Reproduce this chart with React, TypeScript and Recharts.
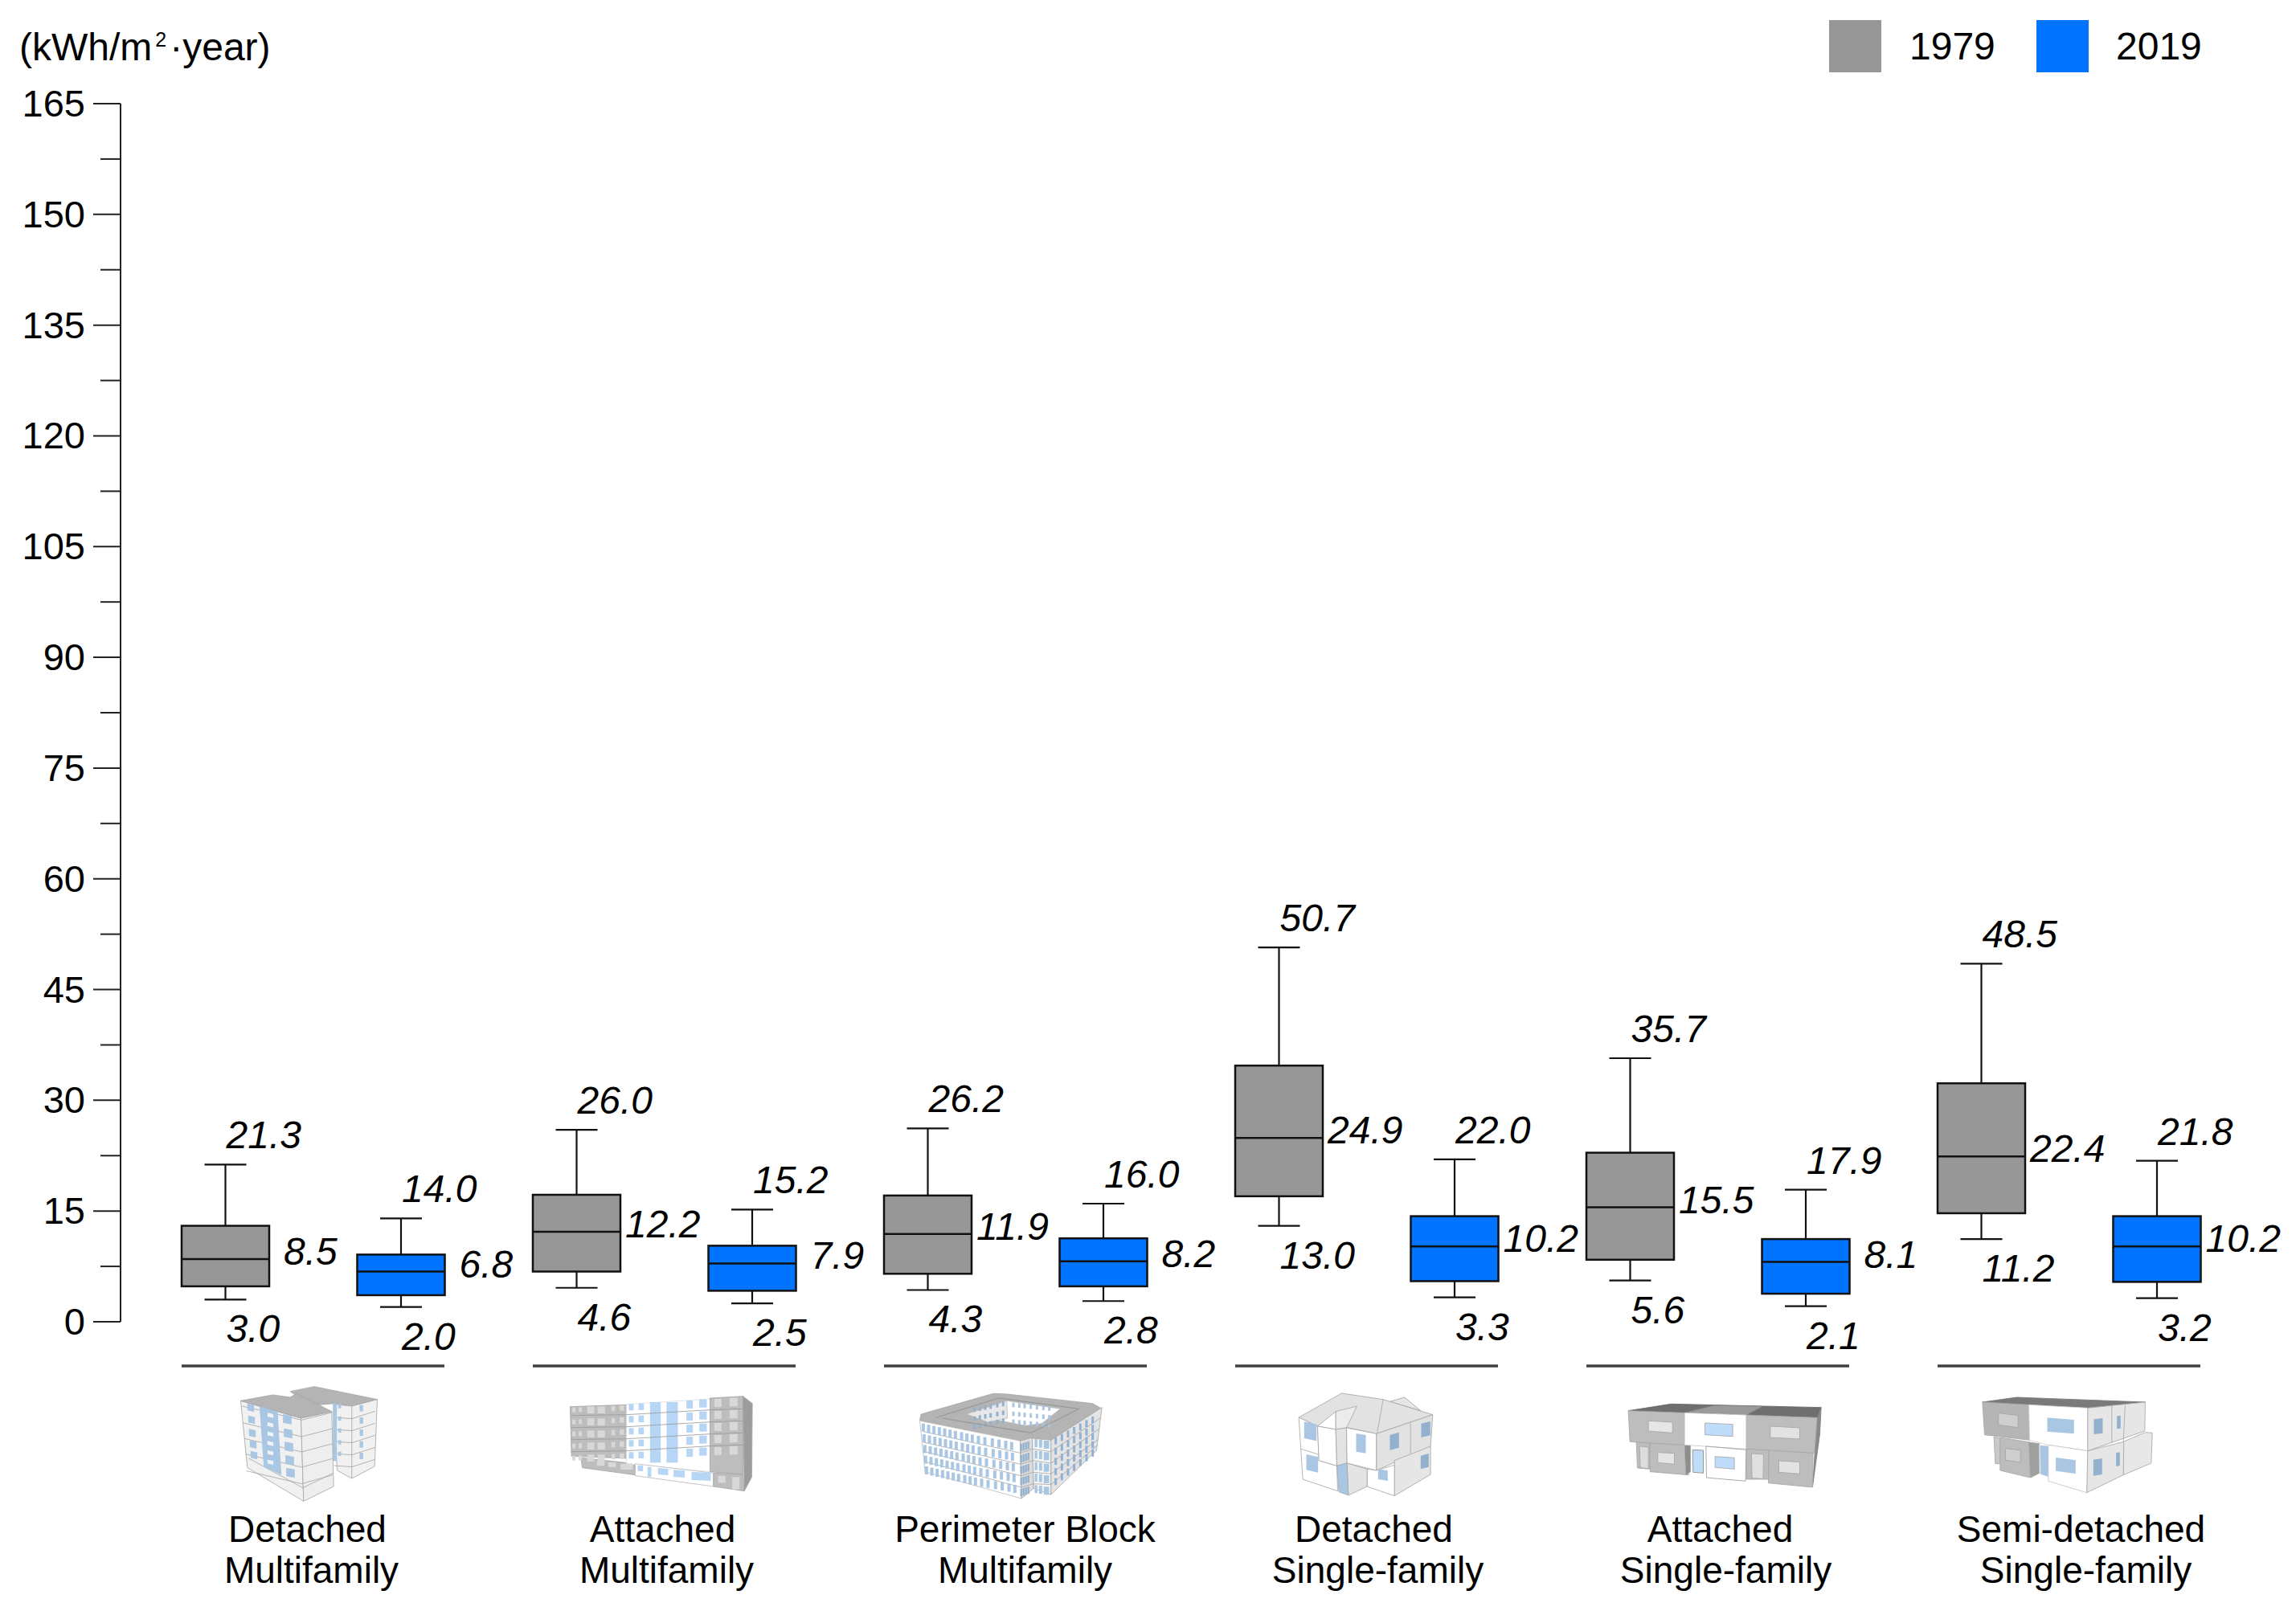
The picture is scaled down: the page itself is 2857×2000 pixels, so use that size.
import { Bar, ComposedChart, XAxis, YAxis } from "recharts";

const FONT = "'Liberation Sans', Arial, sans-serif";
const GRAY = "#979797";
const BLUE = "#0073ff";

const categories = [
  "Detached Multifamily",
  "Attached Multifamily",
  "Perimeter Block Multifamily",
  "Detached Single-family",
  "Attached Single-family",
  "Semi-detached Single-family",
];
const labelLines = [
  ["Detached", "Multifamily"],
  ["Attached", "Multifamily"],
  ["Perimeter Block", "Multifamily"],
  ["Detached", "Single-family"],
  ["Attached", "Single-family"],
  ["Semi-detached", "Single-family"],
];

const hi1979 = [21.3, 26.0, 26.2, 50.7, 35.7, 48.5];
const q3_1979 = [13.0, 17.2, 17.1, 34.7, 22.9, 32.3];
const med1979 = [8.5, 12.2, 11.9, 24.9, 15.5, 22.4];
const q1_1979 = [4.8, 6.8, 6.5, 17.0, 8.4, 14.7];
const lo1979 = [3.0, 4.6, 4.3, 13.0, 5.6, 11.2];

const hi2019 = [14.0, 15.2, 16.0, 22.0, 17.9, 21.8];
const q3_2019 = [9.1, 10.3, 11.3, 14.3, 11.2, 14.3];
const med2019 = [6.8, 7.9, 8.2, 10.2, 8.1, 10.2];
const q1_2019 = [3.6, 4.2, 4.8, 5.5, 3.8, 5.4];
const lo2019 = [2.0, 2.5, 2.8, 3.3, 2.1, 3.2];

const yTicks = [
  0, 7.5, 15, 22.5, 30, 37.5, 45, 52.5, 60, 67.5, 75, 82.5, 90, 97.5, 105, 112.5, 120, 127.5, 135,
  142.5, 150, 157.5, 165,
];

const rows = categories.map((name, i) => ({
  name,
  box1979: [q1_1979[i], q3_1979[i]],
  box2019: [q1_2019[i], q3_2019[i]],
  stats1979: { lo: lo1979[i], med: med1979[i], hi: hi1979[i], q1: q1_1979[i], q3: q3_1979[i] },
  stats2019: { lo: lo2019[i], med: med2019[i], hi: hi2019[i], q1: q1_2019[i], q3: q3_2019[i] },
}));

// box, whiskers and the three value labels, scaled from the bar rectangle recharts hands us
function BoxMark(props: any) {
  const { x, y, width, height, payload, series, fill } = props;
  const s = payload[`stats${series}`];
  const perUnit = height / (s.q3 - s.q1);
  const toY = (v: number) => y + (s.q3 - v) * perUnit;
  const cx = x + width / 2;
  const text = { fontFamily: FONT, fontSize: 48, fontStyle: "italic", fill: "#000" };
  return (
    <g>
      <line x1={cx} x2={cx} y1={toY(s.hi)} y2={toY(s.lo)} stroke="#111" strokeWidth={2.2} />
      <line x1={cx - 26} x2={cx + 26} y1={toY(s.hi)} y2={toY(s.hi)} stroke="#111" strokeWidth={2.2} />
      <line x1={cx - 26} x2={cx + 26} y1={toY(s.lo)} y2={toY(s.lo)} stroke="#111" strokeWidth={2.2} />
      <rect x={x} y={y} width={width} height={height} fill={fill} stroke="#111" strokeWidth={2.5} />
      <line x1={x} x2={x + width} y1={toY(s.med)} y2={toY(s.med)} stroke="#111" strokeWidth={2.5} />
      <text x={cx + 1} y={toY(s.hi) - 20} {...text}>{s.hi.toFixed(1)}</text>
      <text x={cx + 1} y={toY(s.lo) + 53} {...text}>{s.lo.toFixed(1)}</text>
      <text x={x + width + (s.med >= 10 ? 6 : 18)} y={toY(s.med) + 7} {...text}>{s.med.toFixed(1)}</text>
    </g>
  );
}

function YTick(props: any) {
  const { x, y, payload } = props;
  const major = payload.value % 15 === 0;
  return (
    <g>
      <line x1={x - (major ? 34 : 25)} x2={x} y1={y} y2={y} stroke="#222" strokeWidth={2} />
      {major && (
        <text x={x - 44} y={y + 16} textAnchor="end" fontFamily={FONT} fontSize={47} fill="#000">
          {payload.value}
        </text>
      )}
    </g>
  );
}

const Q = ({ p, f, s = "#a6a6a6" }: { p: string; f: string; s?: string }) => (
  <polygon points={p} fill={f} stroke={s} strokeWidth={2.5} strokeLinejoin="round" />
);
const Win = ({ x, y, w, h, k = 0, f }: any) => (
  <polygon points={`${x},${y} ${x + w},${y + k} ${x + w},${y + k + h} ${x},${y + h}`} fill={f} />
);
const Ln = ({ d, s = "#a6a6a6" }: { d: string; s?: string }) => (
  <polyline points={d} fill="none" stroke={s} strokeWidth={2.5} />
);

const WIN = "#a9c6e3";
const WIN2 = "#b7d5f4";
const WIN3 = "#93b0cf";
const ROOF = "#b4b4b4";
const WALL = "#f1f1f1";
const BLOCK = "#bdbdbd";
const PANE = "#d8d8d8";

function IconDetachedMulti() {
  return (
    <g>
      <Q p="275,50 365,32 600,80 505,105 440,95 385,100 300,68" f={ROOF} />
      <Q p="437,98 505,105 600,80 590,330 505,375 450,345" f={WALL} />
      {[150, 195, 240, 285, 330].map(v => (
        <Ln key={v} d={`${438},${v - 3} 505,${v + 2} 592,${v - 26}`} />
      ))}
      <Ln d="505,105 505,375" />
      <Win x={434} y={95} w={15} h={215} f={WIN} />
      {[97, 143, 188, 232, 275].map(v => (
        <g key={v}>
          <Win x={454} y={v} w={11} h={16} f={WIN} />
          <Win x={534} y={v + 4} w={13} h={24} f={WIN} />
        </g>
      ))}
      <Q p="90,85 315,150 325,460 115,335" f={WALL} />
      <Q p="315,150 430,125 437,405 325,460" f="#eeeeee" />
      <Q p="90,85 210,63 275,72 300,58 430,125 315,150" f={ROOF} />
      {[135, 190, 240, 290, 345].map((v, i) => (
        <g key={v}>
          <Ln d={`${96 + i * 4},${v - 30 + i * 8} 318,${v + 22 + i * 7} 433,${v - 7 + i * 6}`} />
        </g>
      ))}
      <Ln d="120,300 322,410 436,355" />
      <polygon points="160,105 228,125 242,362 176,330" fill={WIN} />
      {[130, 165, 200, 235, 270, 305].map(v => (
        <Win key={v} x={190} y={v} w={22} h={14} k={5} f="#eef3f8" />
      ))}
      {[95, 140, 190, 232, 272].map((v, i) => (
        <Win key={v} x={115 + i * 3} y={v} w={25} h={26} k={6} f={WIN} />
      ))}
      {[135, 188, 238, 288, 335].map((v, i) => (
        <Win key={v} x={248 + i * 3} y={v} w={32} h={32} k={6} f={WIN} />
      ))}
    </g>
  );
}

function IconAttachedMulti() {
  const rowsY = [100, 145, 190, 235, 280];
  return (
    <g>
      <Q p="60,107 270,100 270,300 65,292" f={BLOCK} />
      <Q p="100,298 303,320 303,362 105,335" f={BLOCK} />
      <Q p="270,98 582,78 582,350 270,320" f="#ffffff" s="#dddddd" />
      <Q p="303,320 595,355 595,405 303,365" f="#ffffff" s="#bbbbbb" />
      <Q p="582,75 705,68 705,360 582,350" f={BLOCK} />
      <Q p="595,355 705,360 710,422 595,405" f={BLOCK} />
      <Q p="705,68 740,95 738,370 710,422" f="#9c9c9c" />
      {rowsY.map(v => (
        <g key={v}>
          <Win x={68} y={v + 10} w={12} h={18} f={PANE} />
          <Win x={92} y={v + 9} w={12} h={18} f={PANE} />
          <Win x={124} y={v + 6} w={26} h={26} f={PANE} />
          <Win x={162} y={v + 6} w={28} h={26} f={PANE} />
          <Win x={214} y={v + 4} w={14} h={20} f={PANE} />
          <Win x={245} y={v + 2} w={16} h={20} f={PANE} />
          <Win x={279} y={v - 3} w={18} h={24} f={WIN2} />
          <Win x={315} y={v - 5} w={20} h={25} f={WIN2} />
          <Win x={358} y={v - 10} w={40} h={46} f={WIN2} />
          <Win x={420} y={v - 10} w={42} h={46} f={WIN2} />
          <Win x={494} y={v - 16} w={24} h={30} f={WIN2} />
          <Win x={542} y={v - 20} w={28} h={30} f={WIN2} />
          <Win x={598} y={v - 22} w={27} h={30} f={PANE} />
          <Win x={655} y={v - 26} w={30} h={32} f={PANE} />
        </g>
      ))}
      {rowsY.slice(1).map(v => (
        <Ln key={v} d={`62,${v - 5} 270,${v - 8} 582,${v - 26} 705,${v - 30}`} s="#9a9a9a" />
      ))}
      <Win x={312} y={326} w={20} h={22} f={WIN2} />
      <Win x={349} y={332} w={14} h={38} f={WIN2} />
      <Win x={388} y={336} w={38} h={24} k={3} f={WIN2} />
      <Win x={446} y={343} w={42} h={26} k={3} f={WIN2} />
      <Win x={513} y={350} w={72} h={30} k={4} f={WIN2} />
      <Win x={160} y={310} w={28} h={18} f={PANE} />
      <Win x={202} y={315} w={28} h={18} f={PANE} />
      <Win x={248} y={320} w={46} h={22} f={PANE} />
      <Win x={612} y={365} w={28} h={26} f={PANE} />
      <Win x={665} y={370} w={27} h={46} f={PANE} />
    </g>
  );
}

function IconPerimeter() {
  const cols = [52, 72, 92, 112, 132, 152, 172, 195, 215, 235, 258, 282, 310, 335, 360, 382];
  return (
    <g>
      <Q p="50,135 320,58 370,60 690,95 720,112 535,232 425,235 45,158" f={ROOF} />
      <Q p="220,135 370,85 570,115 500,170 440,178" f="#ffffff" s="#bbbbbb" />
      <Q p="220,135 370,85 372,150 300,165" f="#e8e8e8" s="#bbbbbb" />
      {[92, 125, 155].map(v => (
        <g key={v}>
          {[390, 412, 432, 455, 478, 502, 524].map(c => (
            <Win key={c} x={c} y={v + (c - 390) * 0.1} w={9} h={17} f={WIN} />
          ))}
          {[245, 265, 285, 305, 330, 352].map(c => (
            <Win key={c} x={c} y={v + 18 - (c - 245) * 0.2} w={9} h={17} f={WIN3} />
          ))}
        </g>
      ))}
      <Ln d="105,148 340,75 640,115 460,205 130,150" s="#8c8c8c" />
      <Q p="45,160 420,235 425,450 65,350" f="#ffffff" s="#bbbbbb" />
      <Q p="420,235 465,222 470,412 425,450" f="#dcdcdc" />
      <Q p="465,225 535,232 535,435 470,412" f="#f6f6f6" />
      <Q p="535,232 725,110 705,270 535,435" f="#e4e4e4" />
      <Ln d="58,200 420,280 467,265 535,275 718,150" />
      <Ln d="60,240 421,322 468,308 535,318 714,190" />
      <Ln d="62,275 422,365 469,352 535,358 710,230" />
      <Ln d="64,312 424,408 470,395 535,398 707,252" />
      {[0, 1, 2, 3, 4].map(r => (
        <g key={r}>
          {cols.map((c, i) => (
            <Win key={c} x={c + r * 3} y={170 + r * 38 + i * 4.6 + r * 2} w={12} h={30} f={WIN} />
          ))}
          <Win x={474} y={228 + r * 43} w={10} h={30} f={WIN} />
          <Win x={490} y={230 + r * 43} w={12} h={30} f={WIN} />
          <Win x={508} y={234 + r * 43} w={20} h={30} f={WIN} />
          {[0, 1, 2, 3].map(c => (
            <Win key={c} x={420 + c * 9} y={246 + r * 42 - c * 3} w={7} h={28} f={WIN3} />
          ))}
          {[0, 1, 2, 3, 4, 5, 6].map(c => (
            <Win key={c} x={548 + c * 23} y={222 + r * 38 - c * 13 - r * c * 1.2} w={9} h={26} f={WIN3} />
          ))}
        </g>
      ))}
    </g>
  );
}

function IconDetachedSingle() {
  return (
    <g>
      <Q p="420,88 475,72 535,122" f="#e6e6e6" />
      <Q p="80,147 240,57 395,80 580,137 370,208 260,185 150,180" f="#e2e2e2" />
      <Ln d="395,80 372,208" />
      <Q p="150,180 218,125 218,192" f="#ffffff" />
      <Q p="218,125 297,105 258,186 218,192" f="#ececec" />
      <Q p="80,147 150,180 155,308 222,328 225,422 95,378" f="#ffffff" />
      <Ln d="88,265 152,285" />
      <Q p="150,180 218,192 222,328 155,308" f="#ffffff" />
      <Q p="218,192 258,186 260,318 222,328" f="#e3e3e3" />
      <Q p="258,186 370,208 370,345 260,318" f="#ffffff" />
      <Q p="370,208 580,137 572,255 370,345" f="#e2e2e2" />
      <Ln d="497,168 497,282" />
      <Q p="437,308 572,255 572,360 437,440" f="#e6e6e6" />
      <Q p="335,340 370,345 437,325 437,440 335,405" f="#ffffff" />
      <Q p="260,318 335,340 335,405 265,438" f="#e4e4e4" />
      <Q p="222,328 260,318 265,438 230,425" f={WIN} />
      <Win x={100} y={163} w={46} h={62} k={10} f={WIN} />
      <Win x={108} y={285} w={44} h={58} k={10} f={WIN} />
      <Win x={294} y={207} w={36} h={68} k={6} f={WIN} />
      <Win x={420} y={213} w={34} h={57} k={-10} f={WIN3} />
      <Win x={537} y={170} w={34} h={52} k={-8} f={WIN3} />
      <Win x={535} y={290} w={30} h={50} k={-8} f={WIN3} />
      <Win x={376} y={340} w={36} h={38} k={6} f={WIN} />
    </g>
  );
}

function IconAttachedSingle() {
  return (
    <g>
      <Q p="80,122 240,97 800,110 785,148 520,138 290,130" f="#6f6f6f" s="#666666" />
      <Q p="290,130 400,103 580,106 520,138" f="#9a9a9a" s="#8c8c8c" />
      <Q p="785,148 800,110 795,210 768,405" f="#8a8a8a" s="#808080" />
      <Q p="110,238 160,242 160,340 114,336" f={BLOCK} />
      <Q p="122,255 155,258 155,338 125,335" f="#dddddd" />
      <Q p="160,242 305,252 305,362 162,350" f={BLOCK} />
      <Q p="290,250 312,252 312,350 295,362" f="#8d8d8d" />
      <Q p="520,265 605,268 605,378 520,378" f={BLOCK} />
      <Q p="540,282 585,285 583,376 542,374" f="#e0e0e0" />
      <Q p="605,268 770,280 768,408 603,392" f={BLOCK} />
      <Q p="80,122 290,130 290,250 86,238" f={BLOCK} />
      <Q p="520,138 785,148 775,280 520,265" f={BLOCK} />
      <Q p="290,130 520,138 520,265 290,250" f="#ffffff" s="#c8c8c8" />
      <Q p="370,255 520,268 518,385 372,372" f="#ffffff" s="#999999" />
      <Q p="320,268 360,270 360,355 322,352" f="#bfdcfa" s="#888888" />
      <Q p="155,160 245,165 245,205 155,198" f="#e6e6e6" />
      <Q p="190,278 252,281 252,322 190,316" f="#e4e4e4" />
      <Q p="610,180 720,186 720,228 610,222" f="#e2e2e2" />
      <Q p="642,309 720,314 720,358 642,352" f="#e2e2e2" />
      <Q p="366,168 470,173 470,218 366,212" f="#bfdcfa" />
      <Q p="404,293 476,298 476,340 404,334" f="#bfdcfa" />
    </g>
  );
}

function IconSemiDetached() {
  return (
    <g>
      <Q p="82,90 210,72 690,90 475,112 255,100" f="#7a7a7a" s="#777777" />
      <Q p="125,220 150,225 148,320 130,320" f="#c8c8c8" />
      <Q p="148,222 260,240 260,372 148,345" f={BLOCK} />
      <Q p="255,240 295,245 295,355 262,372" f="#9f9f9f" />
      <Q p="82,90 255,100 258,232 90,212" f="#b5b5b5" />
      <Q p="142,131 215,140 215,185 142,175" f="#cfcfcf" />
      <Q p="168,263 224,270 224,315 168,307" f="#cfcfcf" />
      <Q p="295,250 330,253 330,370 297,360" f={WIN} s="#ffffff" />
      <Q p="608,238 690,203 716,205 712,318 608,362" f="#e8e8e8" />
      <Q p="255,100 475,112 475,272 328,250 258,232" f="#ffffff" s="#d0d0d0" />
      <Q p="475,112 690,90 688,198 475,272" f="#e6e6e6" />
      <Ln d="565,105 565,243" />
      <Ln d="615,100 608,238" />
      <Q p="328,250 475,272 472,428 328,385" f="#ffffff" s="#c4c4c4" />
      <Q p="475,272 610,238 608,362 472,428" f="#e6e6e6" />
      <Win x={324} y={148} w={100} h={52} k={8} f={WIN} />
      <Win x={356} y={297} w={74} h={50} k={10} f={WIN} />
      <Win x={498} y={154} w={33} h={56} k={-4} f={WIN3} />
      <Win x={584} y={142} w={14} h={48} k={-2} f={WIN3} />
      <Win x={496} y={305} w={33} h={60} k={-5} f={WIN3} />
      <Win x={581} y={280} w={14} h={50} k={-3} f={WIN3} />
    </g>
  );
}

const icons = [
  { Icon: IconDetachedMulti, dx: -120 },
  { Icon: IconAttachedMulti, dx: -137 },
  { Icon: IconPerimeter, dx: -134 },
  { Icon: IconDetachedSingle, dx: -111 },
  { Icon: IconAttachedSingle, dx: -138 },
  { Icon: IconSemiDetached, dx: -135 },
];

// how far each text line sits from the group centre in the original
const labelShift = [
  [-7, -2],
  [-2, 3],
  [12, 12],
  [9, 14],
  [3, 10],
  [15, 21],
];

function GroupTick(props: any) {
  const { x, y, index } = props;
  const { Icon, dx } = icons[index];
  return (
    <g>
      <line x1={x - 163.5} x2={x + 163.5} y1={y + 55} y2={y + 55} stroke="#404040" strokeWidth={3.5} />
      <g transform={`translate(${x + dx},${y + 70}) scale(0.3333)`}>
        <Icon />
      </g>
      {labelLines[index].map((line, i) => (
        <text
          key={line}
          x={x + labelShift[index][i]}
          y={y + 274 + i * 51}
          textAnchor="middle"
          fontFamily={FONT}
          fontSize={46}
          fill="#000"
        >
          {line}
        </text>
      ))}
    </g>
  );
}

export default function App() {
  return (
    <div style={{ position: "absolute", left: 0, top: 0, width: 2857, height: 2000, background: "#fff" }}>
      <ComposedChart
        width={2857}
        height={2000}
        data={rows}
        margin={{ top: 129, right: 43, bottom: 0, left: 0 }}
        barSize={109}
        barGap={109.5}
      >
        <XAxis
          dataKey="name"
          height={355}
          padding={{ left: 21, right: 21 }}
          axisLine={false}
          tickLine={false}
          tickSize={0}
          tickMargin={0}
          interval={0}
          tick={GroupTick}
        />
        <YAxis
          width={150}
          domain={[0, 165]}
          ticks={yTicks}
          interval={0}
          axisLine={{ stroke: "#222", strokeWidth: 2 }}
          tickLine={false}
          tickSize={0}
          tickMargin={0}
          tick={YTick}
        />
        <Bar
          dataKey="box1979"
          name="1979"
          fill={GRAY}
          isAnimationActive={false}
          shape={(p: any) => <BoxMark {...p} series="1979" fill={GRAY} />}
        />
        <Bar
          dataKey="box2019"
          name="2019"
          fill={BLUE}
          isAnimationActive={false}
          shape={(p: any) => <BoxMark {...p} series="2019" fill={BLUE} />}
        />
        <text x={24} y={75} fontFamily={FONT} fontSize={48} fill="#000">
          (kWh/m
          <tspan dy={-17} dx={4} fontSize={25}>2</tspan>
          <tspan dy={17} dx={4}>·year)</tspan>
        </text>
        <rect x={2276} y={25} width={65} height={65} fill={GRAY} />
        <text x={2376} y={74} fontFamily={FONT} fontSize={48} fill="#000">1979</text>
        <rect x={2534} y={25} width={65} height={65} fill={BLUE} />
        <text x={2633} y={74} fontFamily={FONT} fontSize={48} fill="#000">2019</text>
      </ComposedChart>
    </div>
  );
}
